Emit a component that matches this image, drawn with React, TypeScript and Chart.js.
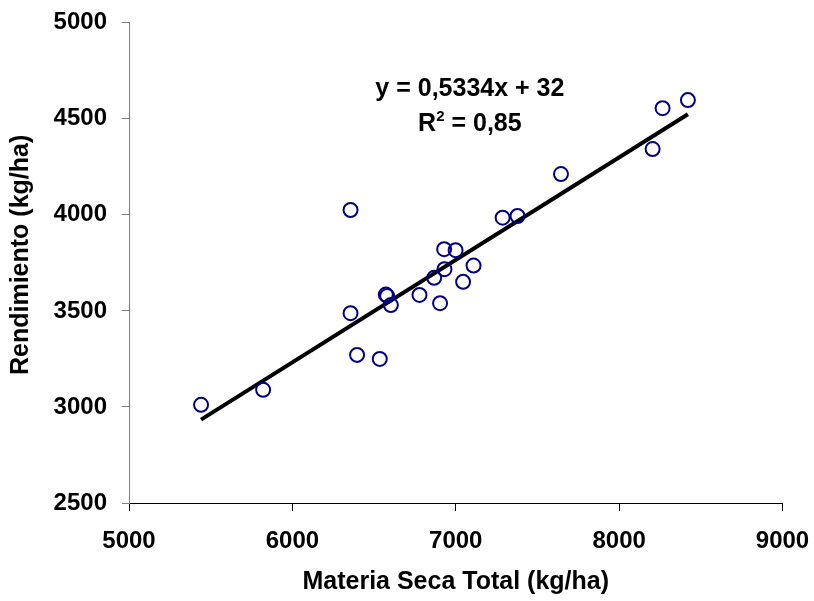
import { useEffect, useRef } from "react";
import { Chart, registerables } from "chart.js";

Chart.register(...registerables);

// Materia Seca Total (kg/ha)
const materiaSeca = [
  5441, 5821, 6356, 6356, 6396, 6535, 6572, 6580, 6603, 6778, 6904, 6868,
  6931, 6929, 6999, 7045, 7109, 7287, 7378, 7644, 8205, 8266, 8421,
];
// Rendimiento (kg/ha)
const rendimiento = [
  3011, 3089, 4025, 3488, 3271, 3250, 3585, 3578, 3530, 3583, 3540, 3672,
  3717, 3821, 3816, 3651, 3736, 3985, 3994, 4212, 4342, 4555, 4597,
];
const slope = 0.5334;
const intercept = 32;
const equationLabel = "y = 0,5334x + 32";
const r2Label = "0,85";
const xTitle = "Materia Seca Total (kg/ha)";
const yTitle = "Rendimiento (kg/ha)";
const xRange = [5000, 9000];
const yRange = [2500, 5000];
const xStep = 1000;
const yStep = 500;

const FONT = "'Liberation Sans', Arial, Helvetica, sans-serif";

const annotationPlugin = {
  id: "eqAnnotation",
  afterDraw(chart: any) {
    const { ctx, chartArea } = chart;
    const w = chartArea.right - chartArea.left;
    const h = chartArea.bottom - chartArea.top;
    ctx.save();
    ctx.fillStyle = "#000";

    // Axis titles
    ctx.font = `bold 25px ${FONT}`;
    ctx.textAlign = "center";
    ctx.textBaseline = "middle";
    ctx.fillText(xTitle, chartArea.left + w / 2, chart.height - 19);
    ctx.save();
    ctx.translate(21, chartArea.top + h * 0.4834);
    ctx.rotate(-Math.PI / 2);
    ctx.fillText(yTitle, 0, 0);
    ctx.restore();

    // Regression equation
    const cx = chartArea.left + w * 0.5216;
    const b1 = chartArea.top + h * 0.1525;
    const b2 = chartArea.top + h * 0.2253;
    ctx.textBaseline = "alphabetic";
    ctx.font = `bold 25px ${FONT}`;
    ctx.textAlign = "center";
    ctx.fillText(equationLabel, cx, b1);
    const big = `bold 25px ${FONT}`;
    const small = `bold 15px ${FONT}`;
    ctx.font = big;
    const wR = ctx.measureText("R").width;
    const rest = " = " + r2Label;
    const wRest = ctx.measureText(rest).width;
    ctx.font = small;
    const w2 = ctx.measureText("2").width;
    const total = wR + w2 + wRest;
    let x = cx - total / 2;
    ctx.textAlign = "left";
    ctx.font = big;
    ctx.fillText("R", x, b2);
    x += wR;
    ctx.font = small;
    ctx.fillText("2", x, b2 - 10);
    x += w2;
    ctx.font = big;
    ctx.fillText(rest, x, b2);
    ctx.restore();
  },
};

export default function App() {
  const ref = useRef<HTMLCanvasElement | null>(null);

  useEffect(() => {
    if (!ref.current) return;
    const xMin = Math.min(...materiaSeca);
    const xMax = Math.max(...materiaSeca);
    const points = materiaSeca.map((x, i) => ({ x, y: rendimiento[i] }));
    const trend = [
      { x: xMin, y: slope * xMin + intercept },
      { x: xMax, y: slope * xMax + intercept },
    ];
    const chart = new Chart(ref.current, {
      type: "scatter",
      data: {
        datasets: [
          {
            type: "line",
            data: trend,
            borderColor: "#000",
            borderWidth: 4,
            pointRadius: 0,
            fill: false,
            order: 2,
          } as any,
          {
            data: points,
            pointStyle: "circle",
            pointRadius: 7,
            pointBorderWidth: 2,
            borderColor: "#000080",
            backgroundColor: "rgba(0,0,0,0)",
            order: 1,
          },
        ],
      },
      options: {
        responsive: false,
        animation: false,
        events: [],
        layout: { padding: { top: 22.7, right: 31.5, bottom: 0, left: 0 } },
        plugins: {
          legend: { display: false },
          tooltip: { enabled: false },
        },
        scales: {
          x: {
            type: "linear",
            min: xRange[0],
            max: xRange[1],
            afterFit(scale: any) {
              scale.height = 98;
              scale.paddingLeft = 0;
              scale.paddingRight = 0;
            },
            ticks: {
              stepSize: xStep,
              color: "#000",
              padding: 16,
              font: { family: FONT, size: 24, weight: "bold" },
              callback: (v: any) => String(v),
            },
            grid: {
              drawOnChartArea: false,
              drawTicks: true,
              tickLength: 8,
              color: "#000",
            },
            border: { display: true, color: "#000", width: 1 },
            title: { display: false },
          },
          y: {
            type: "linear",
            min: yRange[0],
            max: yRange[1],
            afterFit(scale: any) {
              scale.width = 129;
              scale.paddingTop = 0;
              scale.paddingBottom = 0;
            },
            ticks: {
              stepSize: yStep,
              color: "#000",
              padding: 15,
              font: { family: FONT, size: 24, weight: "bold" },
              callback: (v: any) => String(v),
            },
            grid: {
              drawOnChartArea: false,
              drawTicks: true,
              tickLength: 7,
              color: "#808080",
            },
            border: { display: true, color: "#808080", width: 1 },
            title: { display: false },
          },
        },
      },
      plugins: [annotationPlugin],
    });
    return () => chart.destroy();
  }, []);

  return (
    <div style={{ position: "absolute", left: 0, top: 0, width: 814, height: 601, background: "#fff" }}>
      <canvas ref={ref} width={814} height={601} style={{ display: "block" }} />
    </div>
  );
}
